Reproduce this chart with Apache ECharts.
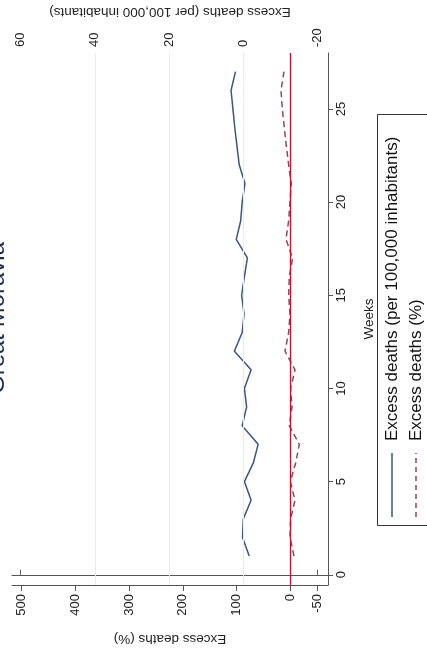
<!DOCTYPE html>
<html><head><meta charset="utf-8">
<script src="https://cdn.jsdelivr.net/npm/echarts@6/dist/echarts.min.js"></script>
<style>html,body{margin:0;padding:0;background:#fff}#c{width:427px;height:652px}</style>
</head><body><div id="c"></div>
<script>
// ---- data ----
const weeks = [1,2,3,4,5,6,7,8,9,10,11,12,13,14,15,16,17,18,19,20,21,22,23,24,25,26,27];
const excessPer100k = [-1.6,0.2,0,-2.1,-0.3,-2.7,-4.0,0.3,-0.9,-0.3,-2.1,2.4,0.3,-0.2,0.45,-0.3,-1.1,1.9,0.7,0.3,-0.45,1.1,1.7,2.3,2.8,3.3,2.1];
const excessPct = [-6.7,0.7,-0.5,-8.6,0,-9.8,-16.6,2.0,-3.0,-0.5,-8.6,10.0,3.2,0.7,3.2,2.0,-4.2,8.2,3.2,0.7,-1.7,3.2,7.6,11.3,15.0,17.5,11.9];
const per100kTicks = [-20,0,20,40,60];
const pctTicks = [-50,0,100,200,300,400,500];
const weekTicks = [0,5,10,15,20,25];
const per100kGridLines = [0,20,40];
const titleText = 'Great Moravia';
const seriesNames = ['Excess deaths (per 100,000 inhabitants)','Excess deaths (%)'];
const axisNames = {per100k:'Excess deaths (per 100,000 inhabitants)', pct:'Excess deaths (%)', weeks:'Weeks'};

const FONT = 'Liberation Sans, Arial, Helvetica, sans-serif';
const BLUE = '#3b5680';
const MAROON = '#93455a';
const RED = '#c8102e';
const AXIS = '#555';

const chart = echarts.init(document.getElementById('c'), null, {renderer:'canvas'});
const labelStyle = {color:'#222', fontSize:13, fontFamily:FONT, rotate:90};

chart.setOption({
  animation:false,
  backgroundColor:'#fff',
  grid:{left:12, right:99, top:45, bottom:67, containLabel:false},
  xAxis:[
    {type:'value', position:'top', inverse:true, min:-22.83, max:62.34,
     name:axisNames.per100k, nameLocation:'middle', nameGap:34, nameRotate:180,
     nameTextStyle:{color:'#222', fontSize:13.5, fontFamily:FONT},
     axisLine:{show:true, lineStyle:{color:AXIS, width:1}},
     axisTick:{show:true, length:5, customValues:per100kTicks, lineStyle:{color:AXIS}},
     axisLabel:Object.assign({margin:6, customValues:per100kTicks}, labelStyle),
     splitLine:{show:false}},
    {type:'value', position:'bottom', inverse:true, min:-70, max:518,
     name:axisNames.pct, nameLocation:'middle', nameGap:47, nameRotate:180,
     nameTextStyle:{color:'#222', fontSize:13.5, fontFamily:FONT},
     axisLine:{show:true, lineStyle:{color:AXIS, width:1}},
     axisTick:{show:true, length:6, customValues:pctTicks, lineStyle:{color:AXIS}},
     axisLabel:Object.assign({margin:9, customValues:pctTicks}, labelStyle),
     splitLine:{show:false}}
  ],
  yAxis:[
    {type:'value', position:'right', min:-0.55, max:28,
     name:axisNames.weeks, nameLocation:'middle', nameGap:34, nameRotate:90,
     nameTextStyle:{color:'#222', fontSize:13.5, fontFamily:FONT},
     axisLine:{show:true, onZero:false, lineStyle:{color:AXIS, width:1}},
     axisTick:{show:true, length:5, customValues:weekTicks, lineStyle:{color:AXIS}},
     axisLabel:Object.assign({margin:7, customValues:weekTicks}, labelStyle),
     splitLine:{show:false}}
  ],
  series:[
    {type:'line', name:'grid', xAxisIndex:0, yAxisIndex:0, data:[], silent:true, z:1,
     markLine:{silent:true, symbol:'none', animation:false, label:{show:false},
       lineStyle:{color:'#e4ebf1', width:1, type:'solid'},
       data:per100kGridLines.map(v=>({xAxis:v}))}},
    {type:'line', name:seriesNames[1], xAxisIndex:1, yAxisIndex:0, z:3,
     data:weeks.map((w,i)=>[excessPct[i], w]),
     showSymbol:false, symbol:'none',
     lineStyle:{color:MAROON, width:1.5, type:[6,4]},
     markLine:{silent:true, symbol:'none', animation:false, label:{show:false},
       lineStyle:{color:RED, width:1.3, type:'solid'},
       data:[{xAxis:0}]}},
    {type:'line', name:seriesNames[0], xAxisIndex:0, yAxisIndex:0, z:4,
     data:weeks.map((w,i)=>[excessPer100k[i], w]),
     showSymbol:false, symbol:'none',
     lineStyle:{color:BLUE, width:1.5}}
  ],
  graphic:[
    {type:'text', x:9, y:318, rotation:Math.PI/2,
     style:{text:titleText, font:'24px '+FONT, fill:'#1c2d4f',
            textAlign:'center', align:'center', textVerticalAlign:'bottom', verticalAlign:'bottom'}},
    {type:'rect', shape:{x:377.5, y:114.5, width:70, height:411},
     style:{fill:'#fff', stroke:'#333', lineWidth:1}},
    {type:'line', shape:{x1:392, y1:517, x2:392, y2:453},
     style:{stroke:BLUE, lineWidth:1.5}},
    {type:'line', shape:{x1:416, y1:517, x2:416, y2:453},
     style:{stroke:MAROON, lineWidth:1.5, lineDash:[5,4]}},
    {type:'text', x:392, y:441, rotation:Math.PI/2,
     style:{text:seriesNames[0], font:'17px '+FONT, fill:'#111',
            textAlign:'left', align:'left', textVerticalAlign:'middle', verticalAlign:'middle'}},
    {type:'text', x:416, y:441, rotation:Math.PI/2,
     style:{text:seriesNames[1], font:'17px '+FONT, fill:'#111',
            textAlign:'left', align:'left', textVerticalAlign:'middle', verticalAlign:'middle'}}
  ]
});
</script>
</body></html>
